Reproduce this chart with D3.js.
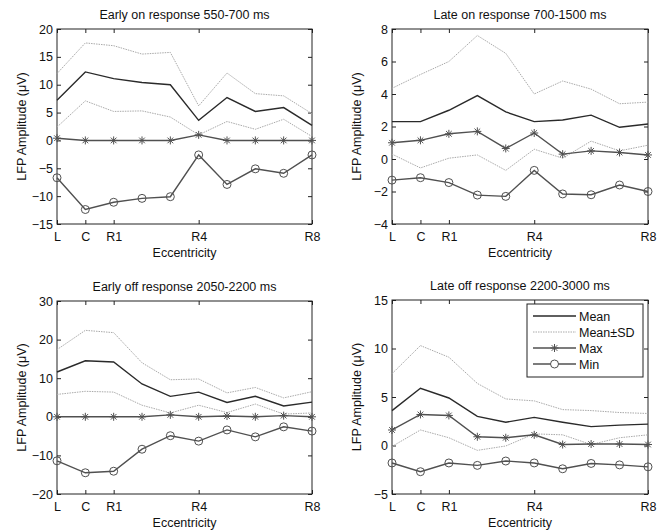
<!DOCTYPE html>
<html>
<head>
<meta charset="utf-8">
<script src="https://d3js.org/d3.v7.min.js"></script>
<style>
  body { margin: 0; background: #fff; }
  svg { font-family: "Liberation Sans", Arial, sans-serif; }
  .tick text { font-size: 12.5px; fill: #111; }
  .tick line { stroke: #222; }
</style>
</head>
<body>
<div id="chart"></div>
<script>
// categories along eccentricity
var categories = ["L", "C", "R1", "R2", "R3", "R4", "R5", "R6", "R7", "R8"];
var xTickLabels = ["L", "C", "R1", "R4", "R8"];

// Early on response 550-700 ms
var earlyOnMean  = [7.2, 12.3, 11.1, 10.4, 10.0, 3.6, 7.7, 5.2, 5.9, 2.7];
var earlyOnUpper = [12.0, 17.5, 17.0, 15.5, 15.8, 6.2, 12.1, 8.4, 8.0, 4.8];
var earlyOnLower = [2.4, 7.1, 5.2, 5.3, 4.2, 1.0, 3.4, 2.0, 3.8, 0.7];
var earlyOnMax   = [0.4, 0, 0, 0, 0, 1.0, 0, 0, 0, 0];
var earlyOnMin   = [-6.7, -12.4, -11.1, -10.4, -10.1, -2.6, -7.9, -5.1, -5.9, -2.6];

// Late on response 700-1500 ms
var lateOnMean  = [2.3, 2.3, 3.0, 3.9, 2.9, 2.3, 2.4, 2.7, 1.95, 2.15];
var lateOnUpper = [4.35, 5.2, 6.0, 7.6, 6.5, 4.0, 4.8, 4.3, 3.4, 3.5];
var lateOnLower = [0.3, -0.55, 0.05, 0.25, -0.7, 0.6, 0.05, 1.1, 0.5, 0.85];
var lateOnMax   = [1.0, 1.15, 1.55, 1.7, 0.65, 1.6, 0.3, 0.5, 0.4, 0.25];
var lateOnMin   = [-1.3, -1.15, -1.45, -2.22, -2.3, -0.7, -2.15, -2.2, -1.6, -2.0];

// Early off response 2050-2200 ms
var earlyOffMean  = [11.6, 14.5, 14.2, 8.5, 5.3, 6.4, 3.7, 5.3, 2.8, 3.8];
var earlyOffUpper = [17.4, 22.4, 21.8, 14.0, 9.6, 9.8, 6.2, 7.6, 4.9, 6.5];
var earlyOffLower = [5.8, 6.6, 6.4, 3.0, 1.0, 3.0, 1.1, 3.3, 0.7, 1.0];
var earlyOffMax   = [0, 0, 0, 0, 0.5, 0, 0.2, 0, 0.3, 0];
var earlyOffMin   = [-11.4, -14.5, -14.1, -8.4, -4.9, -6.3, -3.4, -5.2, -2.6, -3.7];

// Late off response 2200-3000 ms
var lateOffMean  = [3.6, 5.9, 4.9, 3.0, 2.4, 2.9, 2.4, 1.95, 2.1, 2.2];
var lateOffUpper = [7.4, 10.3, 9.1, 6.4, 4.8, 4.6, 3.7, 3.6, 3.4, 3.3];
var lateOffLower = [-0.1, 1.6, 0.8, -0.5, -0.05, 1.2, 1.1, 0.1, 0.8, 1.1];
var lateOffMax   = [1.6, 3.2, 3.1, 0.9, 0.8, 1.1, 0.1, 0.15, 0.15, 0.1];
var lateOffMin   = [-1.8, -2.7, -1.8, -2.05, -1.6, -1.8, -2.4, -1.85, -2.0, -2.2];

var panelTitles = ["Early on response 550-700 ms", "Late on response 700-1500 ms",
                   "Early off response 2050-2200 ms", "Late off response 2200-3000 ms"];
var yDomains = [[-15, 20], [-4, 8], [-20, 30], [-5, 15]];
var yTickSteps = [5, 2, 10, 5];
var legendLabels = ["Mean", "Mean\u00b1SD", "Max", "Min"];
</script>
<script>
var W = 667, H = 531;

var svg = d3.select("#chart").append("svg")
    .attr("width", W)
    .attr("height", H);

// plot areas (left, top, right, bottom)
var boxes = [
  {x0: 57, y0: 29, x1: 312, y1: 224},
  {x0: 392, y0: 29, x1: 648, y1: 224},
  {x0: 57, y0: 301, x1: 312, y1: 494},
  {x0: 392, y0: 300, x1: 648, y1: 494}
];

var panels = [
  {mean: earlyOnMean, upper: earlyOnUpper, lower: earlyOnLower, max: earlyOnMax, min: earlyOnMin},
  {mean: lateOnMean, upper: lateOnUpper, lower: lateOnLower, max: lateOnMax, min: lateOnMin},
  {mean: earlyOffMean, upper: earlyOffUpper, lower: earlyOffLower, max: earlyOffMax, min: earlyOffMin},
  {mean: lateOffMean, upper: lateOffUpper, lower: lateOffLower, max: lateOffMax, min: lateOffMin}
];

var meanColor = "#2a2a2a", sdColor = "#aaa", markColor = "#505050";

// 8 arm asterisk like matlab '*'
function asterisk(r) {
  var d = r * 0.707;
  return "M" + (-r) + ",0L" + r + ",0M0," + (-r) + "L0," + r +
         "M" + (-d) + "," + (-d) + "L" + d + "," + d +
         "M" + (-d) + "," + d + "L" + d + "," + (-d);
}

panels.forEach(function (p, i) {
  var b = boxes[i];
  var x = d3.scalePoint().domain(categories).range([b.x0, b.x1]);
  var y = d3.scaleLinear().domain(yDomains[i]).range([b.y1, b.y0]);
  var yTicks = d3.range(yDomains[i][0], yDomains[i][1] + 0.001, yTickSteps[i]);

  var g = svg.append("g");

  // axes with inward ticks
  var bottom = g.append("g").attr("transform", "translate(0," + b.y1 + ")")
      .call(d3.axisBottom(x).tickValues(xTickLabels).tickSizeInner(-4).tickSizeOuter(0).tickPadding(4));
  var top = g.append("g").attr("transform", "translate(0," + b.y0 + ")")
      .call(d3.axisTop(x).tickValues(xTickLabels).tickSizeInner(-4).tickSizeOuter(0).tickFormat(""));
  var left = g.append("g").attr("transform", "translate(" + b.x0 + ",0)")
      .call(d3.axisLeft(y).tickValues(yTicks).tickSizeInner(-4).tickSizeOuter(0).tickPadding(4));
  var right = g.append("g").attr("transform", "translate(" + b.x1 + ",0)")
      .call(d3.axisRight(y).tickValues(yTicks).tickSizeInner(-4).tickSizeOuter(0).tickFormat(""));
  [bottom, top, left, right].forEach(function (a) { a.select(".domain").remove(); });
  bottom.selectAll(".tick text").attr("dy", "1em");

  g.append("rect")
    .attr("x", b.x0).attr("y", b.y0)
    .attr("width", b.x1 - b.x0).attr("height", b.y1 - b.y0)
    .attr("fill", "none").attr("stroke", "#222").attr("stroke-width", 1);

  // title and labels
  g.append("text")
    .attr("x", (b.x0 + b.x1) / 2).attr("y", b.y0 - 10)
    .attr("text-anchor", "middle").style("font-size", "12.5px").attr("fill", "#111")
    .text(panelTitles[i]);
  g.append("text")
    .attr("x", (b.x0 + b.x1) / 2).attr("y", b.y1 + 33)
    .attr("text-anchor", "middle").style("font-size", "12.5px").attr("fill", "#111")
    .text("Eccentricity");
  g.append("text")
    .attr("transform", "translate(" + (b.x0 - 31) + "," + ((b.y0 + b.y1) / 2) + ") rotate(-90)")
    .attr("text-anchor", "middle").style("font-size", "12.5px").attr("fill", "#111")
    .text("LFP Amplitude (\u03bcV)");

  var line = d3.line()
    .x(function (d, j) { return x(categories[j]); })
    .y(function (d) { return y(d); });

  [p.upper, p.lower].forEach(function (s) {
    g.append("path").datum(s).attr("d", line)
      .attr("fill", "none").attr("stroke", sdColor).attr("stroke-width", 1)
      .attr("stroke-dasharray", "1.5,1");
  });
  g.append("path").datum(p.mean).attr("d", line)
    .attr("fill", "none").attr("stroke", meanColor).attr("stroke-width", 1.4);
  g.append("path").datum(p.max).attr("d", line)
    .attr("fill", "none").attr("stroke", markColor).attr("stroke-width", 1.4);
  g.append("path").datum(p.min).attr("d", line)
    .attr("fill", "none").attr("stroke", markColor).attr("stroke-width", 1.4);

  g.selectAll(".star").data(p.max).enter().append("path")
    .attr("class", "star")
    .attr("transform", function (d, j) { return "translate(" + x(categories[j]) + "," + y(d) + ")"; })
    .attr("d", asterisk(4))
    .attr("stroke", markColor).attr("stroke-width", 1);
  g.selectAll(".ring").data(p.min).enter().append("circle")
    .attr("class", "ring")
    .attr("cx", function (d, j) { return x(categories[j]); })
    .attr("cy", function (d) { return y(d); })
    .attr("r", 4)
    .attr("fill", "none").attr("stroke", markColor).attr("stroke-width", 1);
});

// legend in the last panel
var lg = svg.append("g").attr("transform", "translate(527,304)");
lg.append("rect").attr("width", 116).attr("height", 73)
  .attr("fill", "#fff").attr("stroke", "#222");
legendLabels.forEach(function (name, k) {
  var yy = 12 + k * 16;
  var row = lg.append("g").attr("transform", "translate(0," + yy + ")");
  var ln = row.append("line").attr("x1", 6).attr("x2", 49).attr("y1", 0).attr("y2", 0);
  if (k === 0) ln.attr("stroke", meanColor).attr("stroke-width", 1.4);
  if (k === 1) ln.attr("stroke", sdColor).attr("stroke-dasharray", "1.5,1");
  if (k >= 2) ln.attr("stroke", markColor).attr("stroke-width", 1.4);
  if (k === 2) row.append("path").attr("transform", "translate(27.5,0)").attr("d", asterisk(4))
    .attr("stroke", markColor);
  if (k === 3) row.append("circle").attr("cx", 27.5).attr("r", 4)
    .attr("fill", "#fff").attr("stroke", markColor);
  row.append("text").attr("x", 52).attr("y", 4.5)
    .style("font-size", "12.5px").attr("fill", "#111").text(name);
});
</script>
</body>
</html>
